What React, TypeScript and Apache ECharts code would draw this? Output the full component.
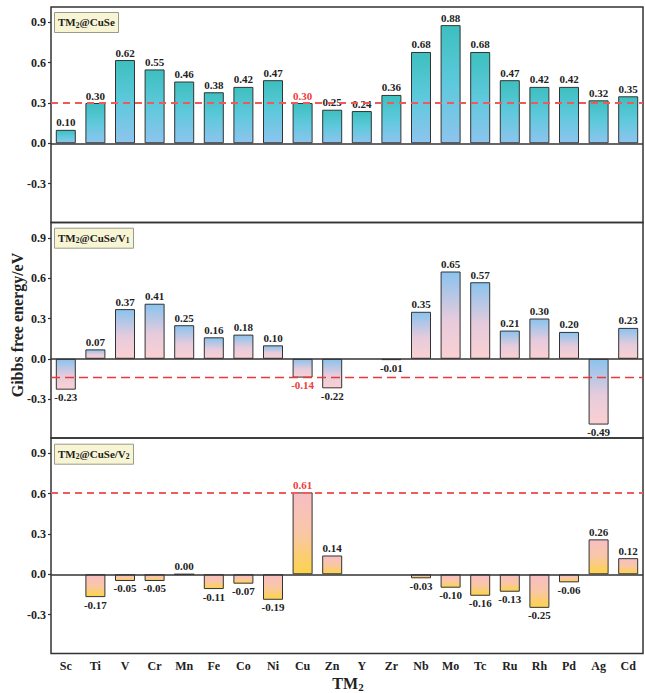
import React, { useEffect, useRef } from "react";
import * as echarts from "echarts";

const categories = ["Sc", "Ti", "V", "Cr", "Mn", "Fe", "Co", "Ni", "Cu", "Zn", "Y", "Zr", "Nb", "Mo", "Tc", "Ru", "Rh", "Pd", "Ag", "Cd"];
const valuesCuSe = [0.10, 0.30, 0.62, 0.55, 0.46, 0.38, 0.42, 0.47, 0.30, 0.25, 0.24, 0.36, 0.68, 0.88, 0.68, 0.47, 0.42, 0.42, 0.32, 0.35];
const valuesV1 = [-0.23, 0.07, 0.37, 0.41, 0.25, 0.16, 0.18, 0.10, -0.14, -0.22, null, -0.01, 0.35, 0.65, 0.57, 0.21, 0.30, 0.20, -0.49, 0.23];
const valuesV2 = [null, -0.17, -0.05, -0.05, 0.00, -0.11, -0.07, -0.19, 0.61, 0.14, null, null, -0.03, -0.10, -0.16, -0.13, -0.25, -0.06, 0.26, 0.12];
const thresholds = [0.30, -0.14, 0.61];
const highlightCategory = "Cu";
const yTickValues = [-0.3, 0, 0.3, 0.6, 0.9];
const panelNames = [
  "{a|TM}{s|2}{a|@CuSe}",
  "{a|TM}{s|2}{a|@CuSe/V}{s|1}",
  "{a|TM}{s|2}{a|@CuSe/V}{s|2}",
];

const FONT = "'Liberation Serif', 'Times New Roman', serif";

export default function App() {
  const ref = useRef<HTMLDivElement>(null);
  useEffect(() => {
    document.body.style.margin = "0";
    if (!ref.current) return;
    const chart = echarts.init(ref.current, undefined, { renderer: "svg" });

    const gridTops = [7, 222.5, 438];
    const gridHeight = 215.5;
    const gradients = [
      [[0, "#3dbfbf"], [0.5, "#5ec9dc"], [1, "#8ec4ee"]],
      [[0, "#8ac3ee"], [0.55, "#e6cbdc"], [1, "#fbd0d2"]],
      [[0, "#f7bec4"], [0.5, "#f9c7a6"], [1, "#fdd34a"]],
    ];
    const lineStyles = [
      { color: "#ee5a5a", width: 2, type: [7, 5] },
      { color: "#e83a3a", width: 1.3, type: [9, 5] },
      { color: "#f05c5c", width: 2, type: [7, 5] },
    ];
    const allValues = [valuesCuSe, valuesV1, valuesV2];
    const hi = categories.indexOf(highlightCategory);

    const grid = gridTops.map((t) => ({
      left: 51,
      right: 2,
      top: t,
      height: gridHeight,
      show: true,
      borderColor: "#333",
      borderWidth: 1.5,
      backgroundColor: "transparent",
    }));

    const xAxis = gridTops.map((_, i) => ({
      type: "category",
      gridIndex: i,
      data: categories,
      axisLine: { show: false, onZero: false },
      axisTick: { show: false },
      splitLine: { show: false },
      axisLabel: {
        show: i === 2,
        fontFamily: FONT,
        fontWeight: "bold",
        fontSize: 12,
        color: "#222",
        margin: 6,
        interval: 0,
      },
    }));

    const yAxis = gridTops.map((_, i) => ({
      type: "value",
      gridIndex: i,
      min: -0.59,
      max: 1.015,
      axisLine: { show: false },
      splitLine: { show: false },
      axisTick: { show: true, inside: false, length: 3, customValues: yTickValues, lineStyle: { color: "#333", width: 1.2 } },
      axisLabel: {
        customValues: yTickValues,
        formatter: (v: number) => v.toFixed(1),
        fontFamily: FONT,
        fontWeight: "bold",
        fontSize: 12,
        color: "#222",
        margin: 5,
      },
    }));

    const series = allValues.map((vals, i) => ({
      type: "bar",
      xAxisIndex: i,
      yAxisIndex: i,
      barWidth: 20,
      data: vals.map((v, j) =>
        v === null
          ? "-"
          : {
              value: v,
              label: {
                position: v < 0 ? "bottom" : "top",
                color: j === hi ? "#f03c3c" : "#222",
              },
            }
      ),
      itemStyle: {
        borderColor: "#333",
        borderWidth: 1,
        color: new echarts.graphic.LinearGradient(
          0, 0, 0, 1,
          gradients[i].map(([o, c]) => ({ offset: o as number, color: c as string }))
        ),
      },
      label: {
        show: true,
        formatter: (p: any) => Number(p.value).toFixed(2),
        fontFamily: FONT,
        fontWeight: "bold",
        fontSize: 11,
        distance: 2,
      },
      markLine: {
        silent: true,
        symbol: "none",
        label: { show: false },
        data: [
          { yAxis: 0, lineStyle: { color: "#333", width: 1.5, type: "solid" } },
          { yAxis: thresholds[i], lineStyle: lineStyles[i] },
        ],
      },
      z: 2,
    }));

    const rich = {
      a: { fontFamily: FONT, fontWeight: "bold", fontSize: 11, color: "#222", lineHeight: 14 },
      s: { fontFamily: FONT, fontWeight: "bold", fontSize: 7.5, color: "#222", lineHeight: 8, verticalAlign: "bottom" },
    };

    const titleTops = [11, 226.7, 442.7];
    const title = panelNames.map((t, i) => ({
      text: t,
      left: 54,
      top: titleTops[i],
      padding: [4, 4, 4, 4],
      backgroundColor: "#f8f5d5",
      borderColor: "#9a9a88",
      borderWidth: 1,
      textStyle: { rich },
    }));

    chart.setOption({
      animation: false,
      title,
      grid,
      xAxis,
      yAxis,
      series,
      graphic: [
        {
          type: "text",
          x: 17,
          y: 325,
          rotation: Math.PI / 2,
          style: {
            text: "Gibbs free energy/eV",
            font: `bold 16px ${FONT}`,
            fill: "#222",
            align: "center",
            verticalAlign: "middle",
            textAlign: "center",
            textVerticalAlign: "middle",
          },
        },
        {
          type: "text",
          x: 348,
          y: 683,
          style: {
            text: "{b|TM}{c|2}",
            rich: {
              b: { fontFamily: FONT, fontWeight: "bold", fontSize: 16, fill: "#222", color: "#222", lineHeight: 18 },
              c: { fontFamily: FONT, fontWeight: "bold", fontSize: 11, fill: "#222", color: "#222", lineHeight: 10, verticalAlign: "bottom" },
            },
            align: "center",
            verticalAlign: "middle",
          },
        },
      ],
    });
    return () => chart.dispose();
  }, []);
  return <div ref={ref} style={{ width: 645, height: 693 }} />;
}
